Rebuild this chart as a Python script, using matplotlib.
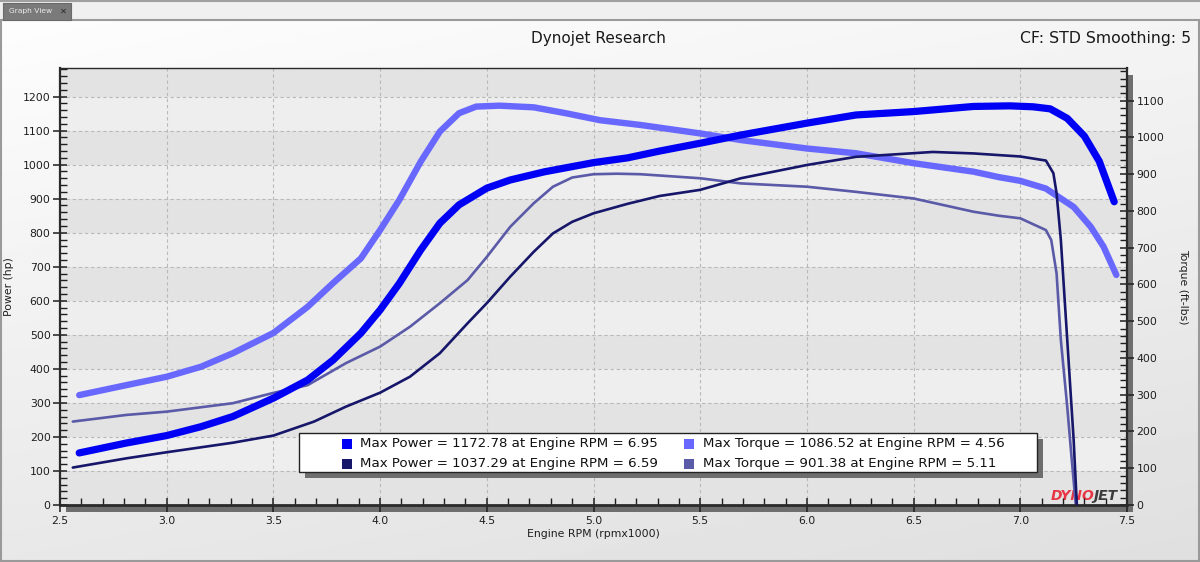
import numpy as np
import matplotlib
matplotlib.use("Agg")
import matplotlib.pyplot as plt
from matplotlib.patches import Rectangle
from matplotlib import transforms
from matplotlib.ticker import MultipleLocator, FormatStrFormatter

# ---------------- data ----------------
p1_rpm = [2.59, 2.81, 3.00, 3.16, 3.31, 3.50, 3.66, 3.78, 3.91, 4.00, 4.09, 4.19, 4.28, 4.37,
          4.50, 4.61, 4.77, 5.00, 5.16, 5.31, 5.50, 5.69, 6.00, 6.23, 6.50, 6.78, 6.95, 7.06,
          7.14, 7.22, 7.30, 7.37, 7.44]
p1_hp = [153, 182, 204, 230, 260, 314, 367, 426, 505, 573, 651, 749, 828, 882,
         931, 955, 979, 1006, 1020, 1040, 1063, 1087, 1122, 1146, 1156, 1171, 1172.78, 1170,
         1164, 1136, 1084, 1010, 891]

t1_rpm = [2.59, 2.81, 3.00, 3.16, 3.31, 3.50, 3.66, 3.78, 3.91, 4.00, 4.09, 4.19, 4.28, 4.37,
          4.45, 4.56, 4.72, 4.87, 5.03, 5.22, 5.50, 5.69, 6.00, 6.23, 6.50, 6.78, 6.90, 7.00,
          7.12, 7.25, 7.33, 7.39, 7.45]
t1_tq = [299, 326, 349, 376, 413, 468, 539, 604, 671, 748, 830, 934, 1016, 1066,
         1084, 1086.52, 1082, 1066, 1047, 1034, 1011, 993, 970, 957, 930, 907, 892, 882,
         861, 811, 757, 703, 626]

p2_rpm = [2.56, 2.81, 3.00, 3.31, 3.50, 3.69, 3.84, 4.00, 4.14, 4.28, 4.41, 4.50, 4.61, 4.72,
          4.81, 4.90, 5.00, 5.16, 5.31, 5.50, 5.69, 6.00, 6.23, 6.59, 6.78, 7.00, 7.12, 7.155,
          7.17, 7.19, 7.21, 7.23, 7.25, 7.265]
p2_hp = [110, 137, 155, 183, 204, 245, 289, 330, 377, 446, 534, 593, 671, 744,
         798, 832, 857, 885, 908, 926, 960, 999, 1023, 1037.29, 1033, 1024, 1012, 975,
         916, 779, 583, 387, 191, 0]

t2_rpm = [2.56, 2.81, 3.00, 3.31, 3.50, 3.66, 3.84, 4.00, 4.14, 4.28, 4.41, 4.50, 4.61, 4.72,
          4.81, 4.90, 5.00, 5.11, 5.22, 5.50, 5.69, 6.00, 6.23, 6.50, 6.78, 6.90, 7.00, 7.12,
          7.145, 7.17, 7.19, 7.22, 7.24, 7.26]
t2_tq = [227, 245, 254, 277, 305, 326, 386, 431, 485, 549, 612, 675, 757, 821,
         866, 891, 900, 901.38, 900, 889, 875, 866, 852, 834, 798, 787, 780, 748,
         721, 630, 449, 267, 131, 0]

legend_labels = [
    "Max Power = 1172.78 at Engine RPM = 6.95",
    "Max Torque = 1086.52 at Engine RPM = 4.56",
    "Max Power = 1037.29 at Engine RPM = 6.59",
    "Max Torque = 901.38 at Engine RPM = 5.11",
]

title = "Dynojet Research"
subtitle = "CF: STD Smoothing: 5"
x_label = "Engine RPM (rpmx1000)"
y_label_left = "Power (hp)"
y_label_right = "Torque (ft-lbs)"

c_p1 = "#0000f5"
c_t1 = "#6868ff"
c_p2 = "#16166a"
c_t2 = "#5a5aa8"

# ---------------- figure ----------------
W, H = 1200, 562
fig = plt.figure(figsize=(12, 5.62), dpi=100)
plt.rcParams["font.family"] = ["DejaVu Sans"]


def fx(px):
    return px / W


def fy(py):
    return 1 - py / H


# background gradient
bg = fig.add_axes([0, 0, 1, 1], zorder=-10)
yy, xx = np.mgrid[0:1:200j, 0:1:300j]
g = 0.995 - 0.085 * yy - 0.035 * xx
bg.imshow(g, cmap="gray", vmin=0, vmax=1, extent=[0, 1, 0, 1], aspect="auto",
          origin="upper", interpolation="bilinear")
bg.set_xlim(0, 1)
bg.set_ylim(0, 1)
bg.axis("off")

# top tab bar
fig.add_artist(Rectangle((0, fy(20)), 1, 20 / H, transform=fig.transFigure,
                         facecolor="#f0f0f0", edgecolor="none", zorder=-4))
fig.add_artist(plt.Line2D([0, 1], [fy(20), fy(20)], transform=fig.transFigure,
                          color="#8c8c8c", lw=1.2, zorder=-3))
fig.add_artist(plt.Line2D([0, 1], [fy(1), fy(1)], transform=fig.transFigure,
                          color="#a0a0a0", lw=1.5, zorder=-3))
fig.add_artist(Rectangle((fx(3), fy(20)), 68 / W, 17 / H, transform=fig.transFigure,
                         facecolor="#7a7a7a", edgecolor="#6a6a6a", lw=0.8, zorder=-2))
fig.text(fx(9), fy(11.5), "Graph View", fontsize=5.4, color="#ececec",
         ha="left", va="center", zorder=-1)
fig.text(fx(63), fy(11.5), "\u2715", fontsize=6.0, color="#2a2a2a", fontweight="bold",
         ha="center", va="center", zorder=-1)
# outer frame
fig.add_artist(Rectangle((0.001, 0.002), 0.998, fy(20) - 0.002, transform=fig.transFigure,
                         facecolor="none", edgecolor="#9a9a9a", lw=1.5, zorder=-3))

# plot area
ax_l, ax_r, ax_t, ax_b = 60, 1127, 68, 505
ax = fig.add_axes([fx(ax_l), fy(ax_b), (ax_r - ax_l) / W, (ax_b - ax_t) / H])
ax2 = ax.twinx()
ax.set_zorder(2)
ax2.set_zorder(1)
ax.patch.set_visible(False)
ax2.patch.set_visible(True)
ax2.set_facecolor("#e6e6e6")

# shadow of the plot area
sh = 6
fig.add_artist(Rectangle((fx(ax_l + sh), fy(ax_b + sh + 1)), (ax_r - ax_l) / W, (ax_b - ax_t) / H,
                         transform=fig.transFigure, facecolor="#6e6e6e", edgecolor="none",
                         zorder=-1))

xmin, xmax = 2.5, 7.5
ymax_l, ymax_r = 1284, 1189
ax.set_xlim(xmin, xmax)
ax.set_ylim(0, ymax_l)
ax2.set_ylim(0, ymax_r)

# banded background + grid (on the lower axes, positioned by the power scale)
trans = transforms.blended_transform_factory(ax2.transAxes, ax.transData)
for y0 in range(0, 1300, 100):
    col = "#eeeeee" if (y0 // 100) % 2 == 1 else "#e3e3e3"
    ax2.add_patch(Rectangle((0, y0), 1, 100, transform=trans, facecolor=col,
                            edgecolor="none", zorder=0.1))
for yv in range(100, 1300, 100):
    ax2.plot([0, 1], [yv, yv], transform=trans, color="#b9b9b9", lw=0.8,
             ls=(0, (3, 2.5)), zorder=0.5)
for xv in np.arange(3.0, 7.5, 0.5):
    ax2.axvline(xv, color="#b9b9b9", lw=0.8, ls=(0, (3, 2.5)), zorder=0.5)

# logo (behind curves)
ax2.text(fx(1094), fy(496), "DYNO", transform=fig.transFigure, fontsize=10,
         fontweight="bold", fontstyle="italic", color="#e83545", ha="right",
         va="center", zorder=0.6)
ax2.text(fx(1093), fy(496), "JET", transform=fig.transFigure, fontsize=10,
         fontweight="bold", fontstyle="italic", color="#3c3c3c", ha="left",
         va="center", zorder=0.6)

# curves
ax2.plot(t1_rpm, t1_tq, color=c_t1, lw=4.6, solid_capstyle="round",
         solid_joinstyle="round", zorder=3)
ax2.plot(t2_rpm, t2_tq, color=c_t2, lw=1.9, solid_capstyle="round",
         solid_joinstyle="round", zorder=3)
ax.plot(p2_rpm, p2_hp, color=c_p2, lw=1.9, solid_capstyle="round",
        solid_joinstyle="round", zorder=3)
ax.plot(p1_rpm, p1_hp, color=c_p1, lw=5.2, solid_capstyle="round",
        solid_joinstyle="round", zorder=3)

# ticks
tcol = "#1e1e1e"
ax.xaxis.set_major_locator(MultipleLocator(0.5))
ax.xaxis.set_minor_locator(MultipleLocator(0.1))
ax.xaxis.set_major_formatter(FormatStrFormatter("%.1f"))
ax.yaxis.set_major_locator(MultipleLocator(100))
ax.yaxis.set_minor_locator(MultipleLocator(20))
ax2.yaxis.set_major_locator(MultipleLocator(100))
ax2.yaxis.set_minor_locator(MultipleLocator(20))
for a in (ax, ax2):
    a.tick_params(which="major", direction="inout", length=9.5, width=1.1,
                  colors=tcol, labelsize=7.8, pad=2)
    a.tick_params(which="minor", direction="in", length=5, width=1.0, colors=tcol)
ax.tick_params(axis="x", which="major", pad=3)

for name, sp in ax.spines.items():
    sp.set_color("#2a2a2a")
    sp.set_linewidth(1.0)
ax.spines["bottom"].set_linewidth(2.0)
ax.spines["left"].set_linewidth(1.6)
ax.spines["right"].set_linewidth(1.6)
for sp in ax2.spines.values():
    sp.set_visible(False)

# axis labels
ax.set_xlabel(x_label, fontsize=7.8, color=tcol)
ax.xaxis.set_label_coords(0.5, -0.056)
ax.set_ylabel(y_label_left, fontsize=7.8, color=tcol)
ax.yaxis.set_label_coords((14 - ax_l) / (ax_r - ax_l), 0.5)
ax2.set_ylabel(y_label_right, fontsize=7.8, color=tcol, rotation=270, va="center")
ax2.yaxis.set_label_coords((1183 - ax_l) / (ax_r - ax_l), 0.5)

# titles
fig.text(fx(598), fy(38), title, fontsize=11, color="#1a1a1a", ha="center", va="center")
fig.text(fx(1191), fy(38), subtitle, fontsize=11.3, color="#1a1a1a", ha="right", va="center")

# legend box (manual)
lx0, ly0, lx1, ly1 = 299, 433, 1037, 472
fig.add_artist(Rectangle((fx(lx0 + 6), fy(ly1 + 6)), (lx1 - lx0) / W, (ly1 - ly0) / H,
                         transform=fig.transFigure, facecolor="#6e6e6e",
                         edgecolor="none", zorder=4))
fig.add_artist(Rectangle((fx(lx0), fy(ly1)), (lx1 - lx0) / W, (ly1 - ly0) / H,
                         transform=fig.transFigure, facecolor="white",
                         edgecolor="#222222", lw=1.0, zorder=5))
colors = [c_p1, c_t1, c_p2, c_t2]
sq_x = [342, 684, 342, 684]
tx_x = [360, 703, 360, 703]
row_y = [443.5, 443.5, 463.5, 463.5]
for lab, col, sx, tx, ry in zip(legend_labels, colors, sq_x, tx_x, row_y):
    fig.add_artist(Rectangle((fx(sx), fy(ry + 5)), 10 / W, 10 / H, transform=fig.transFigure,
                             facecolor=col, edgecolor="none", zorder=6))
    fig.text(fx(tx), fy(ry), lab, fontsize=9.6, color="#111111", ha="left",
             va="center", zorder=6)

fig.savefig("out.png", dpi=100)
